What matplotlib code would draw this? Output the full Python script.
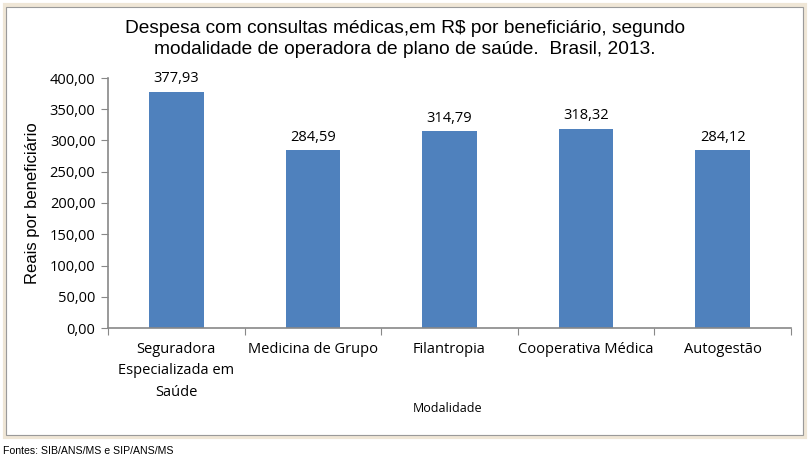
import matplotlib.pyplot as plt
from matplotlib.patches import Rectangle

categorias = ["Seguradora\nEspecializada em\nSaúde", "Medicina de Grupo", "Filantropia",
              "Cooperativa Médica", "Autogestão"]
valores = [377.93, 284.59, 314.79, 318.32, 284.12]
yticks = [0, 50, 100, 150, 200, 250, 300, 350, 400]

def br(v):
    return f"{v:.2f}".replace(".", ",")

fig = plt.figure(figsize=(8.1, 4.62), dpi=100)
fig.patch.set_facecolor("white")

# moldura
fig.patches.append(Rectangle((5 / 810, 1 - 437 / 462), 800 / 810, 432 / 462,
                             transform=fig.transFigure, fill=False,
                             edgecolor="#EFE6D6", linewidth=3))
fig.patches.append(Rectangle((6 / 810, 1 - 435 / 462), 797 / 810, 428 / 462,
                             transform=fig.transFigure, fill=False,
                             edgecolor="#9A9A9A", linewidth=0.8))

ax = fig.add_axes([108 / 810, 1 - 328 / 462, 683 / 810, 250 / 462])
x = range(len(valores))
bars = ax.bar(x, valores, width=0.4, color="#4F81BD")
ax.set_xlim(-0.5, len(valores) - 0.5)
ax.set_ylim(0, 400)
ax.set_yticks(yticks)
ax.set_yticklabels([br(v) for v in yticks], fontsize=10.5, fontfamily="Open Sans")
ax.set_xticks([i - 0.5 for i in range(len(valores) + 1)], minor=False)
ax.set_xticklabels([])
ax.set_xticks(list(x), minor=True)
ax.set_xticklabels(categorias, minor=True, fontsize=10.5, fontfamily="Open Sans",
                   linespacing=1.6, va="top")
ax.tick_params(axis="x", which="minor", length=0, pad=10)
ax.tick_params(axis="x", which="major", length=5, direction="out", color="#888888")
ax.tick_params(axis="y", length=5, color="#888888", pad=4)

for s in ["top", "right"]:
    ax.spines[s].set_visible(False)
for s in ["left", "bottom"]:
    ax.spines[s].set_color("#888888")
    ax.spines[s].set_linewidth(1.2)

for b, v in zip(bars, valores):
    ax.text(b.get_x() + b.get_width() / 2, v + 9, br(v), ha="center", va="bottom",
            fontsize=10.5, fontfamily="Open Sans")

ax.set_ylabel("Reais por beneficiário", fontsize=12, fontfamily="Liberation Sans", labelpad=7)
fig.text(448 / 810, 1 - 409 / 462, "Modalidade", ha="center", va="center",
         fontsize=9, fontfamily="Open Sans")

fig.text(405 / 810, 1 - 39 / 462,
         "Despesa com consultas médicas,em R$ por beneficiário, segundo\n"
         "modalidade de operadora de plano de saúde.  Brasil, 2013.",
         ha="center", va="center", fontsize=13.8, fontfamily="Liberation Sans", linespacing=1.3)

fig.text(3 / 810, 1 - 451 / 462, "Fontes: SIB/ANS/MS e SIP/ANS/MS", ha="left", va="center",
         fontsize=7.6, fontfamily="Liberation Sans")

fig.savefig("out.png", dpi=100)
